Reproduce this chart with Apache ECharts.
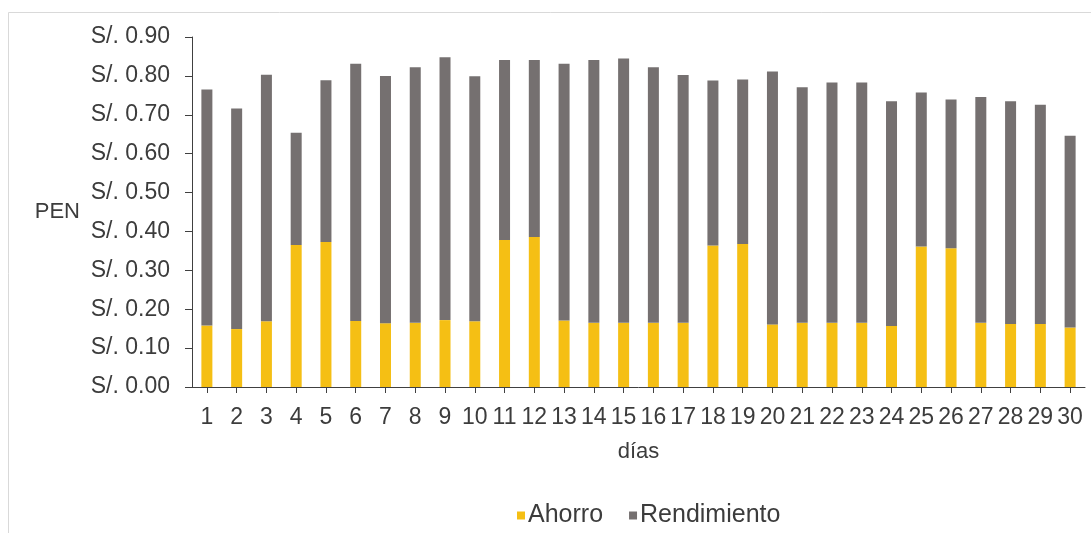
<!DOCTYPE html>
<html>
<head>
<meta charset="utf-8">
<title>Ahorro y Rendimiento por día</title>
<script src="https://cdn.jsdelivr.net/npm/echarts@6/dist/echarts.min.js"></script>
<style>
  html, body { margin: 0; padding: 0; background: #ffffff; }
  #chart { width: 1091px; height: 533px; }
</style>
</head>
<body>
<div id="chart"></div>
<script>
// Days of the month
const dias = ['1','2','3','4','5','6','7','8','9','10','11','12','13','14','15',
              '16','17','18','19','20','21','22','23','24','25','26','27','28','29','30'];

// Daily savings (S/.)
const ahorro = [0.158, 0.149, 0.169, 0.365, 0.373, 0.170, 0.164, 0.165, 0.172, 0.169,
                0.378, 0.386, 0.171, 0.165, 0.165, 0.165, 0.165, 0.364, 0.368, 0.161,
                0.165, 0.165, 0.165, 0.157, 0.361, 0.357, 0.165, 0.162, 0.162, 0.153];

// Daily yield stacked on top of the savings (S/.)
const rendimiento = [0.607, 0.567, 0.634, 0.289, 0.416, 0.661, 0.636, 0.657, 0.676, 0.630,
                     0.463, 0.455, 0.660, 0.676, 0.680, 0.657, 0.637, 0.424, 0.423, 0.650,
                     0.606, 0.618, 0.618, 0.578, 0.396, 0.382, 0.581, 0.573, 0.564, 0.493];

// Value axis ticks
const yMin = 0;
const yMax = 0.9;
const yStep = 0.1;

const FONT = '"Liberation Sans", Arial, sans-serif';
const TEXT = '#3c3c3c';

const chart = echarts.init(document.getElementById('chart'), null, { renderer: 'canvas' });

chart.setOption({
  animation: false,
  backgroundColor: '#ffffff',
  textStyle: { fontFamily: FONT, color: TEXT },
  graphic: [{
    type: 'rect',
    silent: true,
    z: -10,
    shape: { x: 8.5, y: 12.5, width: 1200, height: 700 },
    style: { fill: 'none', stroke: '#d9d9d9', lineWidth: 1 }
  }],
  grid: { left: 192, right: 6, top: 37, bottom: 146, containLabel: false },
  legend: {
    data: ['Ahorro', 'Rendimiento'],
    left: 512,
    top: 498,
    icon: 'rect',
    itemWidth: 8,
    itemHeight: 8,
    itemGap: 26,
    textStyle: { fontFamily: FONT, fontSize: 25, color: TEXT, padding: [0, 0, 0, -2] }
  },
  xAxis: {
    type: 'category',
    data: dias,
    name: 'días',
    nameLocation: 'middle',
    nameGap: 54,
    nameTextStyle: { fontFamily: FONT, fontSize: 22, color: TEXT },
    axisLine: { show: true, lineStyle: { color: '#404040', width: 1 } },
    axisTick: { show: true, alignWithLabel: true, length: 6, lineStyle: { color: '#404040' } },
    axisLabel: { fontFamily: FONT, fontSize: 23, color: TEXT, margin: 19, interval: 0 }
  },
  yAxis: {
    type: 'value',
    min: yMin,
    max: yMax,
    interval: yStep,
    name: 'PEN',
    nameLocation: 'middle',
    nameRotate: 0,
    nameGap: 112,
    nameTextStyle: { fontFamily: FONT, fontSize: 22, color: TEXT, align: 'right', verticalAlign: 'middle' },
    axisLine: { show: true, lineStyle: { color: '#404040', width: 1 } },
    axisTick: { show: true, length: 7, lineStyle: { color: '#404040' } },
    splitLine: { show: false },
    axisLabel: {
      fontFamily: FONT, fontSize: 23, color: TEXT, margin: 22,
      formatter: v => 'S/. ' + v.toFixed(2)
    }
  },
  series: [
    {
      name: 'Ahorro',
      type: 'bar',
      stack: 'total',
      barWidth: 11,
      itemStyle: { color: '#F5BF14' },
      data: ahorro
    },
    {
      name: 'Rendimiento',
      type: 'bar',
      stack: 'total',
      barWidth: 11,
      itemStyle: { color: '#757070' },
      data: rendimiento
    }
  ]
});
</script>
</body>
</html>
